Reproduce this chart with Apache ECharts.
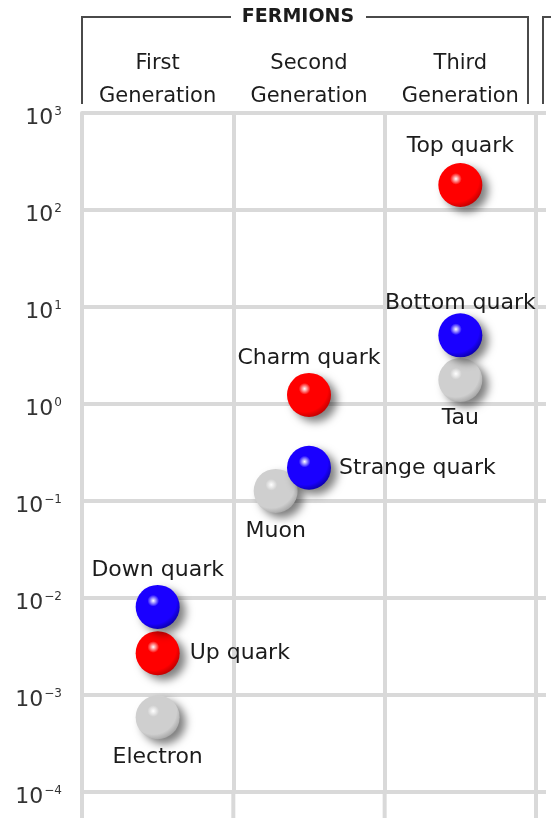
<!DOCTYPE html>
<html><head><meta charset="utf-8">
<script src="https://cdn.jsdelivr.net/npm/echarts@6/dist/echarts.min.js"></script>
<style>html,body{margin:0;padding:0;background:#fff}#c{width:551px;height:818px}</style>
</head><body><div id="c"></div><script>
// ---- data ----
const generations = ['First\nGeneration', 'Second\nGeneration', 'Third\nGeneration'];
const groupTitle = 'FERMIONS';
const yExponents = [-4, -3, -2, -1, 0, 1, 2, 3];

const upNames = ['Up quark', 'Charm quark', 'Top quark'];
const upGen = [0.5, 1.5, 2.5];
const upMass = [0.0027, 1.24, 181];

const downNames = ['Down quark', 'Strange quark', 'Bottom quark'];
const downGen = [0.5, 1.5, 2.5];
const downMass = [0.0081, 0.22, 5.1];

const leptonNames = ['Electron', 'Muon', 'Tau'];
const leptonGen = [0.5, 1.28, 2.5];
const leptonMass = [0.00059, 0.127, 1.77];

// ---- styling ----
const GRID = '#d9d9d9';
const TXT = '#1c1c1c';
const FONT = '"DejaVu Sans", "Noto Sans", sans-serif';
const labelPlace = {
  'Top quark': ['top', 6], 'Bottom quark': ['top', -1], 'Tau': ['bottom', 5],
  'Charm quark': ['top', 4], 'Strange quark': ['right', 8], 'Muon': ['bottom', 7],
  'Down quark': ['top', 4], 'Up quark': ['right', 10], 'Electron': ['bottom', 7]
};
function sphere(base, dark) {
  return new echarts.graphic.RadialGradient(0.4, 0.36, 0.66, [
    { offset: 0, color: '#ffffff' },
    { offset: 0.2, color: base },
    { offset: 0.8, color: base },
    { offset: 1, color: dark }
  ]);
}
function makeSeries(names, gen, mass, base, dark) {
  return {
    type: 'scatter', xAxisIndex: 1, yAxisIndex: 0,
    symbol: 'circle', symbolSize: 44,
    itemStyle: {
      opacity: 1,
      color: sphere(base, dark),
      shadowColor: 'rgba(0,0,0,0.5)', shadowBlur: 8, shadowOffsetX: 6, shadowOffsetY: 5
    },
    label: { show: true, formatter: '{b}', color: TXT, fontSize: 22, fontFamily: FONT },
    labelLayout: { hideOverlap: false },
    data: names.map((n, i) => ({
      name: n, value: [gen[i], mass[i]],
      label: { position: labelPlace[n][0], distance: labelPlace[n][1] }
    })),
    emphasis: { disabled: true }
  };
}
function supText(e) { return e < 0 ? '\u2212' + (-e) : String(e); }

const chart = echarts.init(document.getElementById('c'), null, { renderer: 'canvas' });
const option = {
  backgroundColor: '#ffffff',
  animation: false,
  grid: { left: 82, right: 15, top: 113, bottom: 26 },
  xAxis: [
    {
      type: 'category', position: 'top', data: generations, boundaryGap: true,
      axisLine: { show: false }, axisTick: { show: false }, splitLine: { show: false },
      axisLabel: { interval: 0, hideOverlap: false, color: TXT, fontSize: 21, fontFamily: FONT, lineHeight: 33, margin: 0 }
    },
    {
      type: 'value', min: 0, max: 3, interval: 1, position: 'bottom',
      axisLine: { show: false }, axisTick: { show: false }, axisLabel: { show: false },
      splitLine: { show: true, lineStyle: { color: GRID, width: 4 } }
    }
  ],
  yAxis: {
    type: 'log', logBase: 10,
    min: Math.pow(10, yExponents[0]), max: Math.pow(10, yExponents[yExponents.length - 1]),
    axisLine: { show: true, lineStyle: { color: GRID, width: 4 } },
    axisTick: { show: false },
    splitLine: { show: true, lineStyle: { color: GRID, width: 4 } },
    axisLabel: {
      margin: 20,
      padding: [10, 0, 0, 0],
      formatter: v => {
        const e = Math.round(Math.log10(v));
        return yExponents.indexOf(e) >= 0 ? '{b|10}{s|' + supText(e) + '}' : '';
      },
      rich: {
        b: { fontSize: 22, color: '#333333', fontFamily: FONT },
        s: { fontSize: 12, color: '#333333', fontFamily: FONT, padding: [0, 0, 13, 1] }
      }
    }
  },
  series: [
    makeSeries(leptonNames, leptonGen, leptonMass, '#cfcfcf', '#a9a9a9'),
    makeSeries(upNames, upGen, upMass, '#ff0000', '#c40000'),
    makeSeries(downNames, downGen, downMass, '#1a00ff', '#0c00b0')
  ]
};
chart.setOption(option);

// decorative header bracket and grid-line overhangs, positioned from the axes
const xs = [0, 1, 2, 3].map(g => chart.convertToPixel({ xAxisIndex: 1 }, g));
const ys = yExponents.map(e => chart.convertToPixel({ yAxisIndex: 0 }, Math.pow(10, e)));
const yBottom = ys[0];
const graphics = [];
xs.forEach(x => graphics.push({ type: 'line', shape: { x1: x, y1: yBottom, x2: x, y2: 818 }, style: { stroke: GRID, lineWidth: 4 }, silent: true }));
ys.forEach(y => graphics.push({ type: 'line', shape: { x1: xs[3], y1: y, x2: 546, y2: y }, style: { stroke: GRID, lineWidth: 4 }, silent: true }));
const BR = '#4a4a4a';
const bTop = 17, bBot = 104, bL = xs[0], bR = xs[3] - 8;
graphics.push(
  { type: 'polyline', shape: { points: [[bL, bBot], [bL, bTop], [231, bTop]] }, style: { stroke: BR, lineWidth: 2, fill: null }, silent: true },
  { type: 'polyline', shape: { points: [[366, bTop], [bR, bTop], [bR, bBot]] }, style: { stroke: BR, lineWidth: 2, fill: null }, silent: true },
  { type: 'polyline', shape: { points: [[543, bBot], [543, bTop], [551, bTop]] }, style: { stroke: BR, lineWidth: 2, fill: null }, silent: true },
  { type: 'text', x: 298, y: bTop, style: { text: groupTitle, fill: TXT, font: 'bold 19px ' + FONT, align: 'center', verticalAlign: 'middle' }, silent: true }
);
chart.setOption({ graphic: graphics });
</script></body></html>
